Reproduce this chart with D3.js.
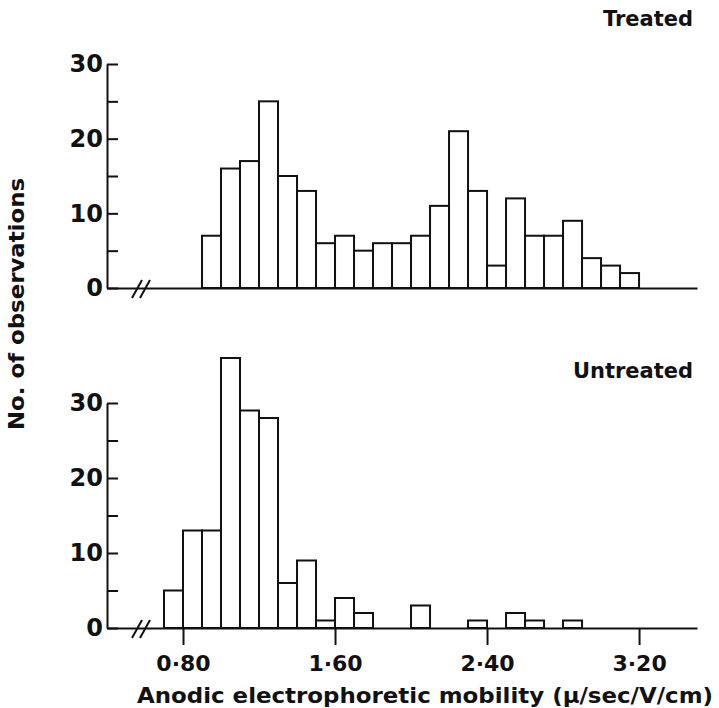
<!DOCTYPE html>
<html>
<head>
<meta charset="utf-8">
<script src="https://cdn.jsdelivr.net/npm/d3@7"></script>
<style>
  body { margin: 0; background: #fff; }
  svg { display: block; }
  text { font-family: 'DejaVu Sans', sans-serif; font-weight: bold; fill: #111; }
</style>
</head>
<body>
<div class="chart"></div>
<script>
const width = 719;
const height = 708;
const binWidth = 0.1;
const fontSize = 21;

// lower edge of each bin (mobility) and number of observations
const treatedEdges = [0.9, 1.0, 1.1, 1.2, 1.3, 1.4, 1.5, 1.6, 1.7, 1.8, 1.9, 2.0,
  2.1, 2.2, 2.3, 2.4, 2.5, 2.6, 2.7, 2.8, 2.9, 3.0, 3.1];
const treatedCounts = [7, 16, 17, 25, 15, 13, 6, 7, 5, 6, 6, 7,
  11, 21, 13, 3, 12, 7, 7, 9, 4, 3, 2];

const untreatedEdges = [0.7, 0.8, 0.9, 1.0, 1.1, 1.2, 1.3, 1.4, 1.5, 1.6, 1.7,
  2.0, 2.3, 2.5, 2.6, 2.8];
const untreatedCounts = [5, 13, 13, 36, 29, 28, 6, 9, 1, 4, 2,
  3, 1, 2, 1, 1];

const xTicks = [0.8, 1.6, 2.4, 3.2];
const yTicks = [0, 5, 10, 15, 20, 25, 30];

const svg = d3
  .select('.chart')
  .append('svg')
  .attr('width', width)
  .attr('height', height);

const x = d3.scaleLinear().domain([0.4, 3.505]).range([107, 697]);

const panels = [
  { name: 'Treated', edges: treatedEdges, counts: treatedCounts, y: d3.scaleLinear().domain([0, 30]).range([288, 64]), labelY: 26, xTicks: [] },
  { name: 'Untreated', edges: untreatedEdges, counts: untreatedCounts, y: d3.scaleLinear().domain([0, 30]).range([628, 403]), labelY: 378, xTicks: xTicks },
];

panels.forEach((p) => {
  const data = p.edges.map((e, i) => ({ x0: e, n: p.counts[i] }));
  const base = p.y(0);

  // bars
  svg
    .append('g')
    .selectAll('rect')
    .data(data)
    .enter()
    .append('rect')
    .attr('x', (d) => x(d.x0))
    .attr('y', (d) => p.y(d.n))
    .attr('width', (d) => x(d.x0 + binWidth) - x(d.x0))
    .attr('height', (d) => base - p.y(d.n))
    .attr('fill', '#fff')
    .attr('stroke', '#111')
    .attr('stroke-width', 2);

  // y axis, ticks pointing inwards
  const yAxis = d3
    .axisLeft(p.y)
    .tickValues(yTicks)
    .tickFormat((d) => (d % 10 === 0 ? d : ''))
    .tickSize(-11)
    .tickSizeOuter(0)
    .tickPadding(4);
  const gy = svg
    .append('g')
    .attr('transform', `translate(${x(0.4)},0)`)
    .call(yAxis);
  gy.selectAll('text').attr('font-size', 24).style('font-family', "'DejaVu Sans', sans-serif");

  // x axis
  const xAxis = d3
    .axisBottom(x)
    .tickValues(p.xTicks)
    .tickFormat((d) => d.toFixed(2).replace('.', '·'))
    .tickSize(17)
    .tickSizeOuter(0)
    .tickPadding(10);
  const gx = svg
    .append('g')
    .attr('transform', `translate(0,${base})`)
    .call(xAxis);
  gx.selectAll('text').attr('font-size', 22).style('font-family', "'DejaVu Sans', sans-serif");

  svg.selectAll('.domain, .tick line').attr('stroke', '#111').attr('stroke-width', 2);

  // axis break marks
  [0, 8].forEach((dx) => {
    svg
      .append('line')
      .attr('x1', 132 + dx)
      .attr('y1', base + 10)
      .attr('x2', 142 + dx)
      .attr('y2', base - 8)
      .attr('stroke', '#111')
      .attr('stroke-width', 2);
  });

  // panel label
  svg
    .append('text')
    .attr('x', 693)
    .attr('y', p.labelY)
    .attr('text-anchor', 'end')
    .attr('font-size', fontSize)
    .text(p.name);
});

// axis titles
svg
  .append('text')
  .attr('x', 137)
  .attr('y', 703)
  .attr('font-size', 21)
  .attr('textLength', 576)
  .attr('lengthAdjust', 'spacingAndGlyphs')
  .text('Anodic electrophoretic mobility (μ/sec/V/cm)');

svg
  .append('text')
  .attr('transform', 'translate(24,304) rotate(-90)')
  .attr('text-anchor', 'middle')
  .attr('font-size', 21)
  .attr('textLength', 252)
  .attr('lengthAdjust', 'spacingAndGlyphs')
  .text('No. of observations');
</script>
</body>
</html>
